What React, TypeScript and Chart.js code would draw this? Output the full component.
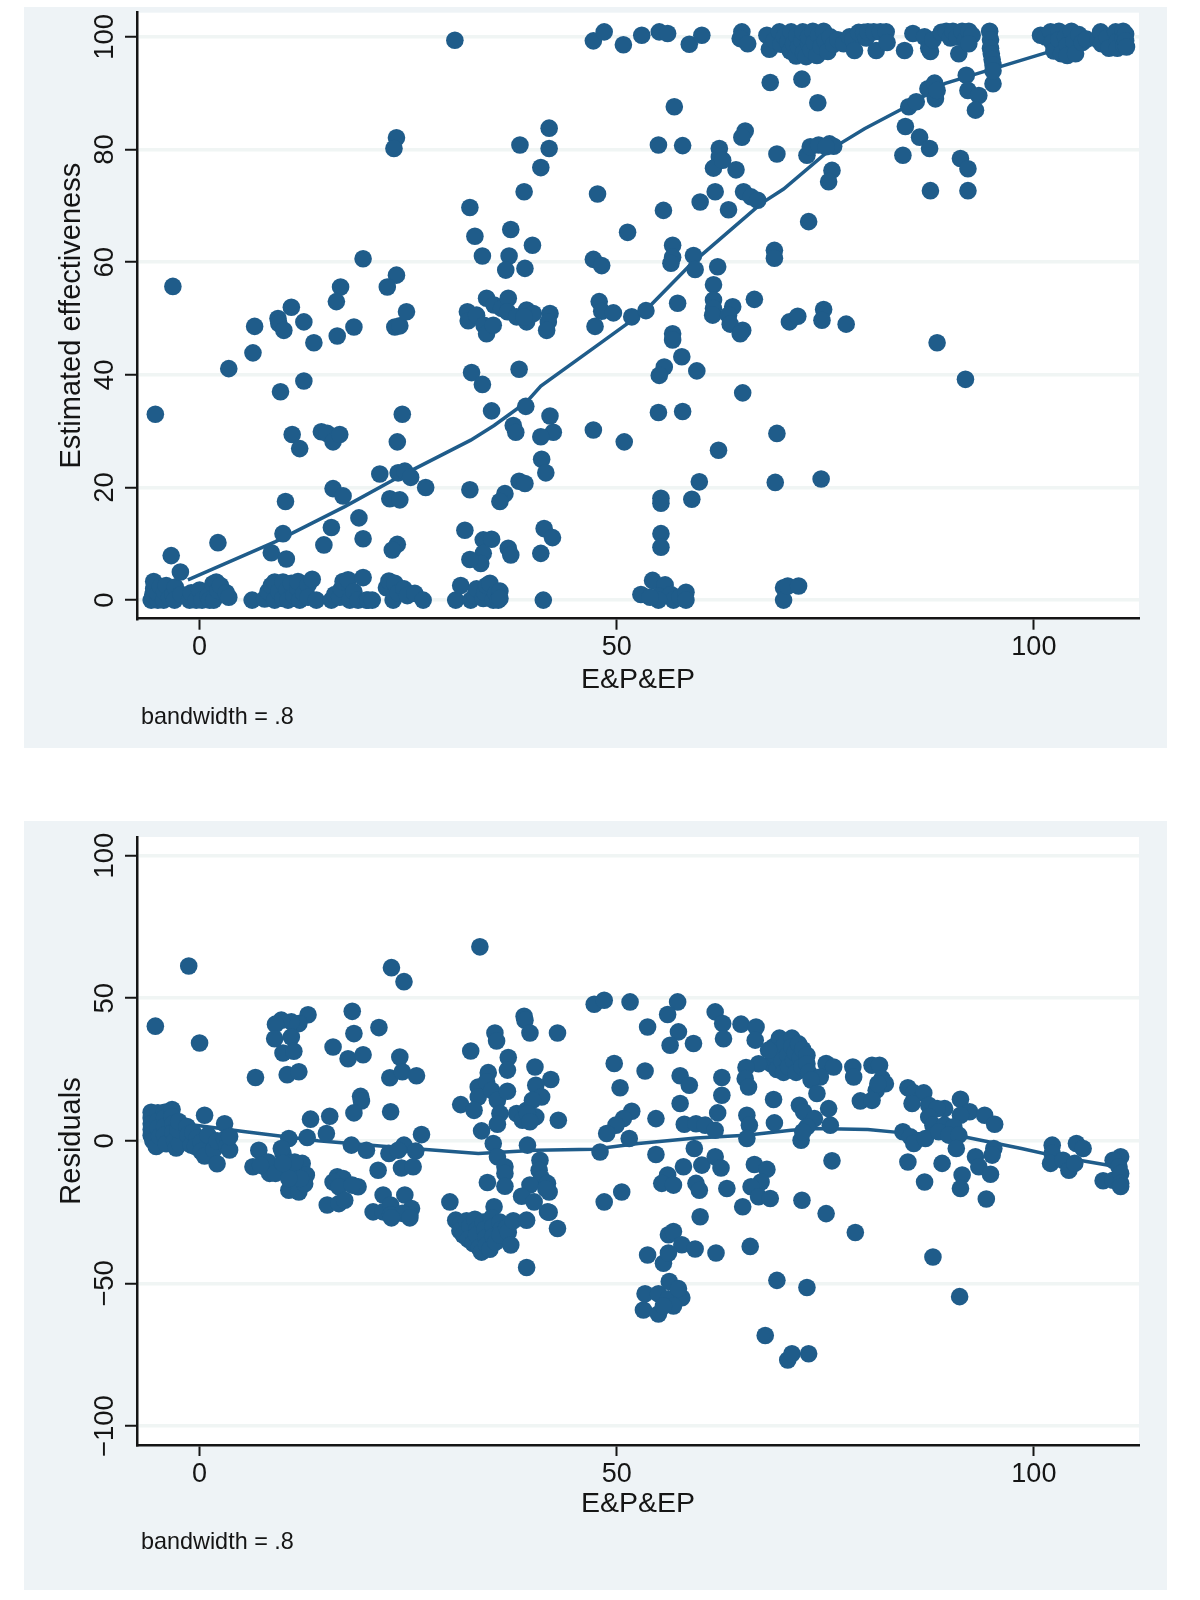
import React, { useEffect, useRef } from "react";
import { Chart, registerables } from "chart.js";

Chart.register(...registerables);

type P = [number, number];

const xTickValues = [0, 50, 100];
const effTickValues = [0, 20, 40, 60, 80, 100];
const resTickValues = [-100, -50, 0, 50, 100];
const xTitle = "E&P&EP";
const effTitle = "Estimated effectiveness";
const resTitle = "Residuals";
const noteText = "bandwidth = .8";

const effBottom: P[] = [
  [-5.8,0],[-5.6,1],[-5.5,2],[-5.5,3.3],[-5,0],[-5,1.2],[-4.7,2.4],[-4.3,0],[-4.2,1.5],[-4,2.6],[-3.6,0.4],[-3.2,1],[-2.9,2.3],[-3,0],[-2.2,1],[-1.2,0],[-1,1.3],[-0.4,0],[0,1.8],[0.3,0],[1,0.7],[1.2,0],[1.6,2.9],[1.7,0],[2,3.2],[2.2,1.7],[2.5,2.6],[3.2,1.3],[3.5,0.5],
  [6.3,0],[7.8,0.2],[8.2,1.5],[8.6,2.6],[9,3.2],[9,0],[9.5,1.5],[10,3.2],[10,0.3],[10.5,1.8],[10.6,0],[11,3],[11.3,0.8],[11.8,2],[11.8,3.3],[12,0],[12.5,1.2],[13,2.7],[13,0.5],[13.5,3.7],[14,0],
  [15.8,0],[16.2,1],[16.8,0.5],[17,2],[17.2,3.3],[17.8,3.6],[18,0],[18.5,1.5],[19,0],[20,0],[19.6,4],[20.2,0],[20.7,0],
  [22.4,2.2],[22.7,3.4],[23.2,0],[23.4,3],[23.8,1.3],[24.5,2],[24.9,0.8],[25.8,1.2],[26.8,0],
  [30.7,0],[31.3,2.6],[32.5,0],[33,0.8],[33.2,2],[34,0.3],[34.2,1.4],[34.4,2.6],[34.8,3],[35.2,0],[35.5,1.2],[35.8,0],[36,1.6],[36,0.3],[41.2,0],
  [52.9,1],[54.3,3.5],[55.8,2.7],[55,0.7],[56.5,1],[56.8,0],[57.6,0.5],[58.3,1.4],[58.3,0],[55,0],[54,0.5],
  [70,2.2],[70,0],[70.5,2.5],[71.8,2.5],
];

const effLower: P[] = [
  [-3.4,7.9],[-2.3,5],[2.2,10.2],[8.6,8.4],[10.4,7.3],[10,11.8],[10.3,17.5],[11.1,29.4],[12,26.9],[14.6,29.9],[15.3,29.6],[16,28.1],[16.8,29.4],[16,19.8],[17.2,18.5],[15.8,12.9],[14.9,9.8],[19.1,14.6],[19.6,10.9],[23.7,9.9],[23.1,8.9],[21.6,22.4],[23.8,22.6],[24.6,22.9],[25.3,21.8],[27.1,20],[22.8,18],[24,17.8],[23.7,28.1],[24.3,33],[-5.3,33],
  [35,33.6],[39.1,34.4],[37.6,31],[37.9,29.8],[42,32.7],[42.4,29.8],[40.9,29],[41,25],[41.5,22.6],[38.3,21.1],[39,20.7],[32.4,19.6],[36.6,18.9],[36,17.5],[31.8,12.4],[34,10.7],[35,10.8],[34,8.3],[33.7,6.5],[32.4,7.2],[37,9.2],[37.3,8],[41.3,12.7],[42.3,11.1],[40.9,8.3],[47.2,30.2],[50.9,28.1],
  [55,33.3],[57.9,33.5],[59.9,21],[59,17.9],[55.3,18.1],[55.3,17.2],[55.3,11.8],[55.3,9.4],[62.2,26.6],[65.1,36.8],[69.2,29.6],[69,20.9],[74.5,21.5],
];

const effMiddle: P[] = [
  [30.6,99.4],[23.6,82.1],[23.3,80.2],[41.9,83.8],[38.4,80.8],[41.9,80.2],[40.9,76.8],[38.9,72.5],[32.4,69.7],[33,64.6],[37.3,65.8],[39.9,63],[33.9,61.1],[37.1,61.1],[36.7,58.6],[39,58.9],[19.6,60.6],[23.6,57.7],[22.5,55.6],[16.9,55.6],[-3.2,55.7],[16.4,53],[11,52],[9.4,50],[9.5,49.1],[10.1,47.9],[12.5,49.4],[6.6,48.6],[6.4,43.9],[13.7,45.7],[16.5,46.9],[18.5,48.5],[23.4,48.5],[24,48.7],[24.8,51.2],[3.5,41.1],[12.5,38.9],[9.7,37],[32.6,40.4],[33.9,38.3],[38.3,41],
  [32.1,51.2],[32.2,49.6],[33.2,50.6],[34.4,53.6],[35.3,52.4],[36.2,51.8],[37,53.6],[36.9,51.2],[38,50.3],[39.2,49.4],[39.2,51.5],[40,50.9],[34.1,48.8],[34.4,47.3],[35.2,48.8],[38.9,50.3],[42,50.9],[41.8,49.4],[41.6,47.9],
  [47.7,72.1],[51.3,65.3],[47.2,60.5],[48.2,59.4],[47.9,53],[48.2,51.3],[49.6,51],[47.4,48.6],[51.8,50.3],[53.5,51.4],
];

const effUpper: P[] = [
  [55,80.8],[57.9,80.7],[56.9,87.6],[65.4,83.3],[65,82.2],[62.3,80.2],[62.3,78.7],[61.6,76.7],[62.7,78.1],[64.3,76.4],[69.2,79.2],[61.8,72.5],[60,70.7],[63.4,69.3],[65.2,72.5],[66.1,71.6],[66.9,71],[55.6,69.2],[56.7,63],[56.7,60.9],[56.5,59.8],[59.2,61.2],[59.4,58.7],[62.1,59.2],[61.6,56],[61.6,53.3],[61.6,51.8],[61.5,50.6],[57.3,52.7],[63.9,52.1],[63.4,50.6],[63.6,49],[65.1,47.9],[64.8,47.3],[66.5,53.4],[73,67.2],
  [72.8,79],[73.2,80.5],[74.2,80.8],[75.5,81],[76,80.6],[75.1,80.5],[75.8,76.3],[75.4,74.3],[68.9,62.1],[68.9,60.7],[70.7,49.4],[71.7,50.4],[74.8,51.6],[74.6,49.7],[77.5,49],[88.4,45.7],[91.8,39.2],[56.7,47.3],[56.7,46.2],[57.8,43.2],[55.7,41.4],[55.1,39.9],[59.6,40.7],
  [68.4,91.9],[72.2,92.5],[74.1,88.3],[84.6,84.1],[86.3,82.2],[87.5,80.2],[84.3,79],[91.2,78.4],[92.1,76.6],[87.6,72.7],[92.1,72.7],[85,87.6],[85.9,88.5],[87.3,90.8],[88.1,91.8],[88.2,89],[88.4,90.5],[91.9,93.2],[92.1,90.5],[93.4,89.6],[93,87],[95.1,91.7],
];

const effTop: P[] = [
  [47.2,99.3],[48.5,100.9],[50.8,98.6],[53,100.3],[55.1,100.9],[56.1,100.6],[58.7,98.7],[60.2,100.3],[65,100.9],[64.8,99.7],[65.7,98.8],
  [68,100.3],[68.3,97.8],[68.9,99.4],[69.5,100.9],[69.7,98.7],[70.1,100],[70.5,99],[70.8,97.5],[70.9,100.9],[71.2,98.8],[71.5,96.6],[71.6,100.2],[71.8,98.2],[72.2,99.3],[72.3,100.9],[72.4,97.2],[72.7,96.5],[73,98.8],[73,100],[73.3,97.7],[73.5,101],[73.7,99],[74,96.7],[74.2,100.3],[74.5,98.3],[74.8,101],[75,99.3],[75.3,97.4],[75.6,100],[76,98.7],[76.5,99.5],[77.2,98.8],[77.9,100],[78.3,99.5],[78.5,97.6],[79,100.8],[79.6,100.8],[79.9,99.8],[80.1,100.9],[80.8,100.9],[81.1,97.6],[81.6,100.9],[82.3,100.9],[82.4,99],
  [84.5,97.6],[85.5,100.6],[86.9,100],[87.4,98],[87.6,97.4],[87.9,99.5],[88.9,100.8],[89.5,101],[90,99.8],[90.3,101],[90.8,100],[91,97],[91.4,101],[91.8,99.5],[92.2,101],[92.6,100.3],[92.2,98.8],
  [94.7,101],[94.8,99.5],[94.8,98],[94.9,97],[95,96],[95.1,95],[95.1,94],
  [100.8,100.3],[101.4,100],[102,100.9],[102.2,99],[102.4,97.5],[103,101],[103,99.5],[103.3,97],[103.8,100],[104,98.5],[104,96.7],[104.5,101],[104.8,99.2],[105,97],[105.4,100.4],[105.8,99],[106.3,99.6],[107.7,99.5],[108,100.9],[108.1,98.8],[108.8,99.9],[109,98],[109.8,100.9],[110,99.2],[110,98],[110.7,101],[110.7,99.7],[110.8,98.5],[111,100.5],[111,99.3],[111.1,98.2],
];

const effLowess: P[] = [
  [-1.4,3.6],[9.1,10.4],[17.4,16.6],[24.3,22.2],[32.5,28.4],[35.3,31],[39.2,35.2],[40.9,38],[48,45.6],[53.5,51.5],[59,59.8],[67.3,70.4],[70,73],[75.5,79.9],[79.7,83.7],[84.7,87.6],[89.3,91.7],[93.9,93.8],[101.7,97.3],[104.5,98.2],[110.6,99.3],
];

const resLeft: P[] = [
  [-5.3,40.2],[-1.3,61.3],[0,34.3],
  [-5.8,10],[-5.8,8],[-5.8,6],[-5.8,4],[-5.8,2],[-5.6,0],[-5.2,-2],[-5,9.8],[-5,7],[-5,4.5],[-4.8,1.5],[-4.2,10],[-4.2,8],[-4.2,5],[-4.2,2],[-4,-1],[-3.3,11],[-3.3,8.5],[-3.2,6],[-3.2,3],[-3,0],[-2.8,-2.5],[-2.4,-1],[-2.6,4],[-2.5,6.8],[-1.5,5],[-1.4,2],[-1,-1.5],[-0.8,3],[-0.3,1],[-0.5,-2],[0.2,-0.5],[0.2,-3.7],[0.6,-5.3],[0.6,9],[1,2],[1.7,-3],[2.1,-8],[2.1,0],[3,0.5],[3,6],[3.3,-2],[3.6,-3.2],[3.6,1.5],
  [18.3,45.4],[18.5,37.6],[16,32.9],[17.8,28.8],[19.6,30.2],[21.5,39.7],[13,44.2],[11.9,41.1],[11,41.7],[9.8,42.3],[9.1,40.9],[9,35.8],[11,36.4],[10,30.8],[11.3,31.4],[10.5,23.2],[11.9,24.2],[6.7,22.2],
  [23,60.7],[24.5,55.8],[24,29.4],[22.8,22.1],[24.3,24.2],[26,22.8],[19.3,15.6],[19.4,14],[18.5,9.8],[22.9,10.2],[13.3,7.6],[15.6,8.6],[15.2,2.6],[12.9,1.2],[10.7,0.8],[18.2,-1.5],[20,-3.3],[26.6,2.2],[22.7,-4.4],[24.5,-1.5],[25.9,-3.6],[23.8,-3.3],[21.4,-10.3],[24.2,-9.5],[25.6,-9.1],
  [7.1,-3.3],[6.4,-9.1],[7.8,-9.1],[8.4,-11.4],[9.4,-9.1],[10,-4.4],[10.5,-7.9],[9.8,-2.7],[10.3,-11.4],[11.4,-11.4],[12.3,-7.9],[12.8,-12],[11,-15],[10.7,-17.3],[11.9,-17.9],[12.6,-15],[11.4,-7.4],[8.2,-7.4],[9.1,-11.4],[7.3,-8.5],[12.1,-13.2],[10.7,-13.2],[10,-7.9],
  [16.5,-12.6],[17.2,-13.2],[16,-14.4],[16.7,-16.1],[19,-16.1],[18.3,-15.5],[15.3,-22.5],[16.7,-22],[17.4,-20.8],[22,-19],[24.6,-19],[20.8,-24.9],[22,-24.9],[22.9,-22.5],[22.9,-26],[25.4,-23.7],[25.2,-26],[24.3,-25.4],[23,-27],[25.2,-27],
];

const resCentre: P[] = [
  [30,-21.4],[32.5,31.5],[33.6,68],[38.9,43.7],[39,42.3],[39.6,37.8],[42.9,37.8],[35.4,37.8],[35.6,35],[37,29.2],[36.9,24.8],[40.2,25.9],[42.1,21.5],[34.6,23.9],[33.4,18.9],[34.4,20.7],[33.4,15.4],[35,17.7],[31.3,12.7],[32.9,10.7],[35.7,14.2],[36,9.6],[35.7,5.8],[33.8,3.5],[36.9,17.4],[38,9.6],[39.2,10.7],[40.3,19.5],[41,15.4],[39.9,14.2],[38.7,7.2],[40.3,8.4],[39.3,9.6],[39.6,6.7],[43,7.2],
  [35.2,-0.9],[35.7,-5.6],[36.6,-9.1],[36.6,-11.4],[36.6,-15.9],[34.5,-14.6],[39.3,-1.5],[40.8,-6.8],[40.7,-10.3],[41,-13.2],[41.7,-14.9],[41.9,-17.9],[39.6,-15.5],[38.6,-19.4],[40.1,-21.4],[41.7,-24.9],[35.3,-23.1],[41.5,-16.8],[41.9,-25],
  [30.7,-27.8],[31.3,-29],[31.2,-31.5],[31.6,-33],[32,-28],[32.4,-30],[32.2,-34.5],[32.8,-36],[33,-27.5],[33.3,-31],[33.2,-33],[33.5,-37.5],[33.8,-39],[34,-28.5],[34.2,-31],[34.3,-34],[34.4,-36.5],[34.8,-38],[35,-27],[35.2,-30],[35.2,-33.5],[35.5,-35.5],[36,-28.5],[36.2,-31],[36,-33],[36.8,-30.5],[37,-32],[37.6,-28],[39.2,-27.8],[37.3,-36.5],[39.2,-44.4],[42.9,-30.7],
];

const resMiddle: P[] = [
  [47.3,47.9],[48.5,49.3],[51.6,48.7],[57.3,48.7],[56.1,44.3],[53.7,39.9],[57.4,38.2],[56.4,33.5],[59.2,34.1],[61.8,45.2],[62.7,41.1],[62.8,35.8],[64.9,40.9],[66.7,39.9],[66.6,35.3],
  [49.7,27.1],[53.4,24.5],[50.4,18.6],[57.6,22.8],[58.7,19.5],[62.6,22.2],[62.6,16],[57.6,13.1],[62.1,9.8],[51.8,10.4],[50.8,7.8],[49.9,5.5],[48.8,2.6],[54.7,7.8],[51.5,0.8],[58.1,5.8],[59.5,6],[60.6,5.5],[61.8,3.7],[65.6,9],[65.9,5.5],[65.6,0.8],[68.8,14.5],[68.9,6.3],
  [48,-3.9],[54.7,-4.8],[59.3,-2.7],[60.2,-8.5],[61.8,-5.6],[62.5,-9.5],[58,-9.1],[56.1,-12],[55.4,-14.9],[56.8,-15.5],[59.5,-14.9],[59.9,-17.3],[63.2,-16.7],[66.5,-8.3],[68,-10],[67.3,-14.4],[66.1,-16.1],[67,-19.6],[68.4,-20.2],[50.6,-17.9],[48.5,-21.4],[72.2,-20.8],[75.1,-25.5],[75.8,-7],[65.1,-23.1],[60,-26.6],
  [53.7,-40],[56.2,-32.9],[56.8,-31.8],[57.8,-36.4],[59.4,-37.9],[61.9,-39.3],[66,-37],[55.6,-42.9],[56.2,-39.3],[69.2,-48.9],[72.8,-51.4],[78.6,-32.1],[87.9,-40.7],[91.1,-54.6],[67.8,-68.2],[70.5,-76.8],[71,-74.6],[73,-74.6],
  [53.2,-59.3],[55,-60.7],[53.4,-53.6],[55,-53.6],[56.3,-49.3],[56.2,-55.4],[57.8,-55],[56.8,-57.9],[55.6,-57.9],[57.4,-51.8],
];

const resRight: P[] = [
  [68.5,27],[68.8,33],[69,30],[69.2,25],[69.5,36],[69.6,32],[69.8,28],[70,24],[70.2,34],[70.5,30],[70.6,26],[71,36],[71,33],[71.2,28],[71.4,31],[71.5,24],[71.8,34],[72,29],[72.2,26],[72.3,32],[72.8,30],[72.8,27],[73,24],[67,27],[68.2,31.8],
  [65.5,25.7],[65.4,21.8],[65.8,18.9],[75.1,27.1],[76,25.9],[74.4,22.4],[73.3,21.3],[74,16.6],[71.9,12.5],[72.4,10.2],[75.4,11.3],[73.7,7.8],[75.6,5.5],[72.8,4.9],[72.1,0.2],[72.3,3.2],
  [78.3,25.9],[78.4,22.4],[80.6,26.5],[81.5,26.5],[81.8,21.8],[82.2,20],[81.1,17.7],[79.2,14],[80.6,14.2],[81.3,20],
  [84.9,18.6],[85.6,16.8],[86.8,16.8],[85.4,13.1],[87.4,12.5],[89.3,11.3],[88.4,11.3],[91.2,14.6],[92.3,10.2],[91.2,9],[94.1,9],[95.3,5.8],[87.4,8.4],[87.9,5.5],[89.3,5.5],[90.4,4.9],[84.3,3.2],[85.2,1.4],[85.6,-0.9],[87,0.8],[88.6,3.2],[89.8,2],[91,2],[90.7,-2.7],[95.2,-2.7],[95,-5],[84.9,-7.4],[89,-7.9],[86.9,-14.4],[93,-5.6],[93.4,-9.1],[94.8,-11.7],[91.4,-12],[91.2,-16.7],[94.3,-20.4],
  [102.2,-1.5],[102.2,-4.4],[102,-7.9],[105.1,-0.9],[105.9,-2.7],[103.5,-6.8],[104.2,-10.3],[104.9,-7.9],[108.3,-14],[109.5,-13.8],[110.4,-5.6],[109.5,-6.8],[110.2,-9.1],[110.4,-11.4],[110.4,-14.9],[110.4,-16],
];

const resLowess: P[] = [
  [-1.4,5.8],[5.5,3.2],[14.2,0],[22,-1.9],[33.4,-4.4],[40.3,-3.3],[47.2,-2.9],[52.6,-0.9],[59.5,1],[65.5,2],[70.9,3.7],[73.7,4.3],[80.1,4],[84.3,2.8],[91.6,1.4],[98.5,-2.7],[103,-5.6],[110,-9.1],
];

const NAVY = "#1f5c8a";
const PANEL = "#eef3f6";
const GRID = "#f0f5f4";
const INK = "#151515";
const FONT = "'Liberation Sans', Arial, sans-serif";

function toPts(groups: P[][]) {
  return groups.flat().map(([x, y]) => ({ x, y }));
}

function makeConfig(o: {
  points: P[][]; line: P[]; yMin: number; yMax: number; yTicks: number[]; yTitle: string;
  top: number; xHeight: number; noteY: number; yTickPad: number; xTitlePad: number;
}): any {
  const notePlugin = {
    id: "panelDecor",
    beforeDraw(chart: any) {
      const { ctx, chartArea: a } = chart;
      ctx.save();
      ctx.fillStyle = "#ffffff";
      ctx.fillRect(a.left, a.top, a.right - a.left, a.bottom - a.top);
      ctx.restore();
    },
    afterDraw(chart: any) {
      const { ctx } = chart;
      ctx.save();
      ctx.fillStyle = INK;
      ctx.font = `23.4px ${FONT}`;
      ctx.textBaseline = "middle";
      ctx.fillText(noteText, 117, o.noteY);
      ctx.restore();
    },
  };
  return {
    type: "scatter",
    data: {
      datasets: [
        { data: toPts(o.points), backgroundColor: NAVY, borderColor: NAVY, borderWidth: 0, pointRadius: 8.8, pointStyle: "circle", clip: false },
        { data: toPts([o.line]), showLine: true, borderColor: NAVY, borderWidth: 3.5, pointRadius: 0, fill: false, tension: 0 },
      ],
    },
    plugins: [notePlugin],
    options: {
      responsive: false,
      animation: false,
      layout: { autoPadding: false, padding: { left: 0, top: o.top, right: 28, bottom: 0 } },
      plugins: { legend: { display: false }, tooltip: { enabled: false }, title: { display: false } },
      scales: {
        x: {
          type: "linear", min: -7.5, max: 112.6,
          afterBuildTicks: (s: any) => { s.ticks = xTickValues.map((value) => ({ value })); },
          afterFit: (s: any) => { s.height = o.xHeight; s.paddingLeft = 0; s.paddingRight = 0; },
          border: { display: true, color: INK, width: 2.5 },
          grid: { drawOnChartArea: false, tickLength: 11, tickColor: INK, tickWidth: 2 },
          ticks: { color: INK, font: { family: FONT, size: 27 }, padding: 2, maxRotation: 0, autoSkip: false },
          title: { display: true, text: xTitle, color: INK, font: { family: FONT, size: 28.5 }, padding: { top: 0, bottom: o.xTitlePad } },
        },
        y: {
          type: "linear", min: o.yMin, max: o.yMax,
          afterBuildTicks: (s: any) => { s.ticks = o.yTicks.map((value) => ({ value })); },
          afterFit: (s: any) => { s.width = 113; s.paddingTop = 0; s.paddingBottom = 0; },
          border: { display: true, color: INK, width: 2.5 },
          grid: { color: GRID, lineWidth: 3.5, tickLength: 12, tickColor: INK, tickWidth: 2 },
          ticks: {
            color: INK, font: { family: FONT, size: 27.5 }, padding: o.yTickPad, minRotation: 90, maxRotation: 90,
            crossAlign: "center", autoSkip: false,
            callback: (v: number) => (v < 0 ? `\u2212${Math.abs(v)}` : String(v)),
          },
          title: { display: true, text: o.yTitle, color: INK, font: { family: FONT, size: 29 }, padding: { top: 30.5, bottom: 0 } },
        },
      },
    },
  };
}

function Panel(props: { top: number; height: number; config: any }) {
  const ref = useRef<HTMLCanvasElement>(null);
  useEffect(() => {
    const chart = new Chart(ref.current as HTMLCanvasElement, props.config);
    return () => chart.destroy();
  }, []);
  return (
    <canvas
      ref={ref}
      width={1143}
      height={props.height}
      style={{ position: "absolute", left: 24, top: props.top, width: 1143, height: props.height, background: PANEL }}
    />
  );
}

const topConfig = makeConfig({
  points: [effBottom, effLower, effMiddle, effUpper, effTop], line: effLowess,
  yMin: -3.3, yMax: 104.3, yTicks: effTickValues, yTitle: effTitle,
  top: 5.7, xHeight: 129.3, noteY: 711, yTickPad: -3.5, xTitlePad: 50.5,
});

const bottomConfig = makeConfig({
  points: [resLeft, resCentre, resMiddle, resRight], line: resLowess,
  yMin: -106.6, yMax: 106.5, yTicks: resTickValues, yTitle: resTitle,
  top: 16, xHeight: 145, noteY: 721.7, yTickPad: -11.5, xTitlePad: 69,
});

export default function App() {
  return (
    <div style={{ position: "absolute", left: 0, top: 0, width: 1200, height: 1600, background: "#ffffff" }}>
      <Panel top={7} height={741} config={topConfig} />
      <Panel top={821} height={769} config={bottomConfig} />
    </div>
  );
}
